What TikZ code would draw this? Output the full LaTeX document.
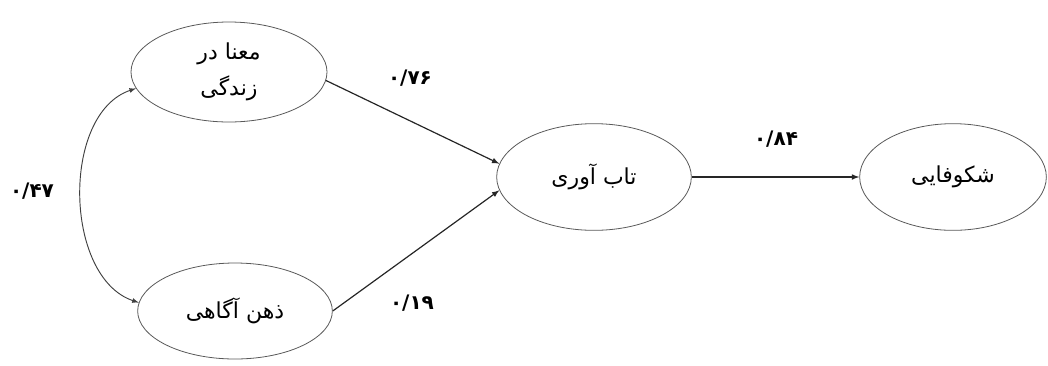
\documentclass[tikz,border=0pt]{standalone}
\usepackage{fontspec}
\usepackage{tikz}
\usetikzlibrary{arrows,shapes.geometric}
\TeXXeTstate=1
\newfontfamily\arabicfont[Script=Arabic]{DejaVu Sans}

\begin{document}
\begin{tikzpicture}[x=0.75pt,y=-0.75pt]

\tikzset{latent/.style={ellipse, draw=black!65, line width=0.6pt, inner sep=0pt,
    align=center, font=\arabicfont\fontsize{16.5}{27}\selectfont},
  path/.style={-latex, draw=black!85, line width=0.9pt},
  coef/.style={font=\arabicfont\bfseries\fontsize{15}{18}\selectfont}}

\useasboundingbox (0,0) rectangle (1048,365);

\node[latent, minimum width=147pt, minimum height=75pt] (meaning) at (229,72)
  {\beginR معنا در\endR\\\beginR زندگی\endR};
\node[latent, minimum width=146pt, minimum height=72pt] (mindful) at (235,311)
  {\beginR ذهن آگاهی\endR};
\node[latent, minimum width=146pt, minimum height=80pt] (resil) at (594,177)
  {\beginR تاب آوری\endR};
\node[latent, minimum width=140pt, minimum height=80pt] (flourish) at (953,177)
  {\beginR شکوفایی\endR};

\draw[path] (meaning.-5) -- (resil.172);
\draw[path] (mindful.east) -- (resil.188);
\draw[path] (resil.east) -- (flourish.west);
\draw[latex-latex, draw=black!75, line width=0.7pt]
  (meaning.190) .. controls +(-75,25) and +(-75,-25) .. (mindful.175);

\node[coef] (c47) at (32,191) {۰/۴۷};
\node[coef] (c76) at (410,78) {۰/۷۶};
\node[coef] (c19) at (412,303) {۰/۱۹};
\node[coef] (c84) at (776,139) {۰/۸۴};

\end{tikzpicture}
\end{document}
